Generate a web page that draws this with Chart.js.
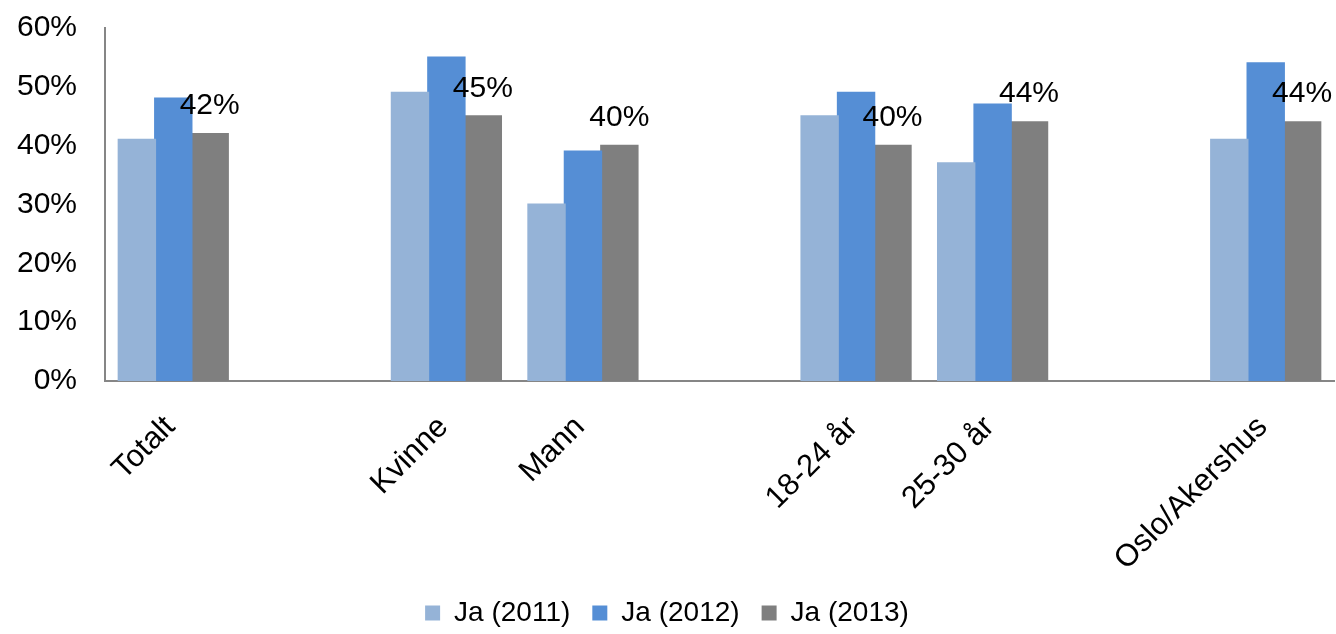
<!DOCTYPE html>
<html>
<head>
<meta charset="utf-8">
<script src="https://cdn.jsdelivr.net/npm/chart.js@4.4.0/dist/chart.umd.min.js"></script>
<style>
  html, body { margin: 0; padding: 0; background: #fff; }
  #wrap { width: 1336px; height: 634px; position: relative; }
</style>
</head>
<body>
<div id="wrap"><canvas id="graf"></canvas></div>
<script>
// Kategorier (tomme strenger gir mellomrom mellom gruppene)
const kategorier = ['Totalt', '', 'Kvinne', 'Mann', '', '18-24 år', '25-30 år', '', 'Oslo/Akershus']

// Andel "Ja" i prosent per år
const ja2011 = [41, null, 49, 30, null, 45, 37, null, 41]
const ja2012 = [48, null, 55, 39, null, 49, 47, null, 54]
const ja2013 = [42, null, 45, 40, null, 40, 44, null, 44]

const yTicks = [0, 10, 20, 30, 40, 50, 60]

const FONT = "'Liberation Sans', Arial, sans-serif"
const AKSE = '#868686'

// Etiketter kun over 2013-søylene
const etiketter = {
  id: 'etiketter',
  afterDatasetsDraw(chart) {
    const ctx = chart.ctx
    const meta = chart.getDatasetMeta(2)
    ctx.save()
    ctx.font = `30px ${FONT}`
    ctx.fillStyle = '#000'
    ctx.textAlign = 'center'
    ctx.textBaseline = 'bottom'
    meta.data.forEach((bar, i) => {
      const v = ja2013[i]
      if (v === null) return
      ctx.fillText(v + '%', bar.x, bar.y - 13)
    })
    ctx.restore()
  }
}

new Chart(document.getElementById('graf'), {
  type: 'bar',
  data: {
    labels: kategorier,
    datasets: [
      { label: 'Ja (2011)', data: ja2011, backgroundColor: '#95b3d7', inflateAmount: 1 },
      { label: 'Ja (2012)', data: ja2012, backgroundColor: '#558ed5', inflateAmount: 1 },
      { label: 'Ja (2013)', data: ja2013, backgroundColor: '#7f7f7f', inflateAmount: 1 }
    ]
  },
  options: {
    responsive: true,
    maintainAspectRatio: false,
    animation: false,
    datasets: { bar: { categoryPercentage: 0.8, barPercentage: 1.0 } },
    layout: { padding: { top: 28, right: 2, left: 0, bottom: -3 } },
    plugins: {
      legend: {
        position: 'bottom',
        labels: {
          color: '#000',
          font: { family: FONT, size: 28 },
          boxWidth: 15,
          boxHeight: 15,
          padding: 22
        }
      },
      tooltip: { enabled: false }
    },
    scales: {
      x: {
        grid: { display: false, drawTicks: false },
        border: { display: true, color: AKSE, width: 2 },
        ticks: {
          color: '#000',
          font: { family: FONT, size: 31 },
          minRotation: 45,
          maxRotation: 45,
          autoSkip: false,
          padding: 28,
          labelOffset: -3
        },
        afterFit(scale) { scale.height = 196 }
      },
      y: {
        min: 0,
        max: 60,
        afterBuildTicks(scale) { scale.ticks = yTicks.map(v => ({ value: v })) },
        grid: { display: false, drawTicks: false },
        border: { display: true, color: AKSE, width: 2 },
        ticks: {
          color: '#000',
          font: { family: FONT, size: 30 },
          padding: 28,
          callback: v => v + '%'
        },
        afterFit(scale) {
          scale.width = 105
          scale.paddingTop = 0
          scale.paddingBottom = 0
        }
      }
    }
  },
  plugins: [etiketter]
})
</script>
</body>
</html>
